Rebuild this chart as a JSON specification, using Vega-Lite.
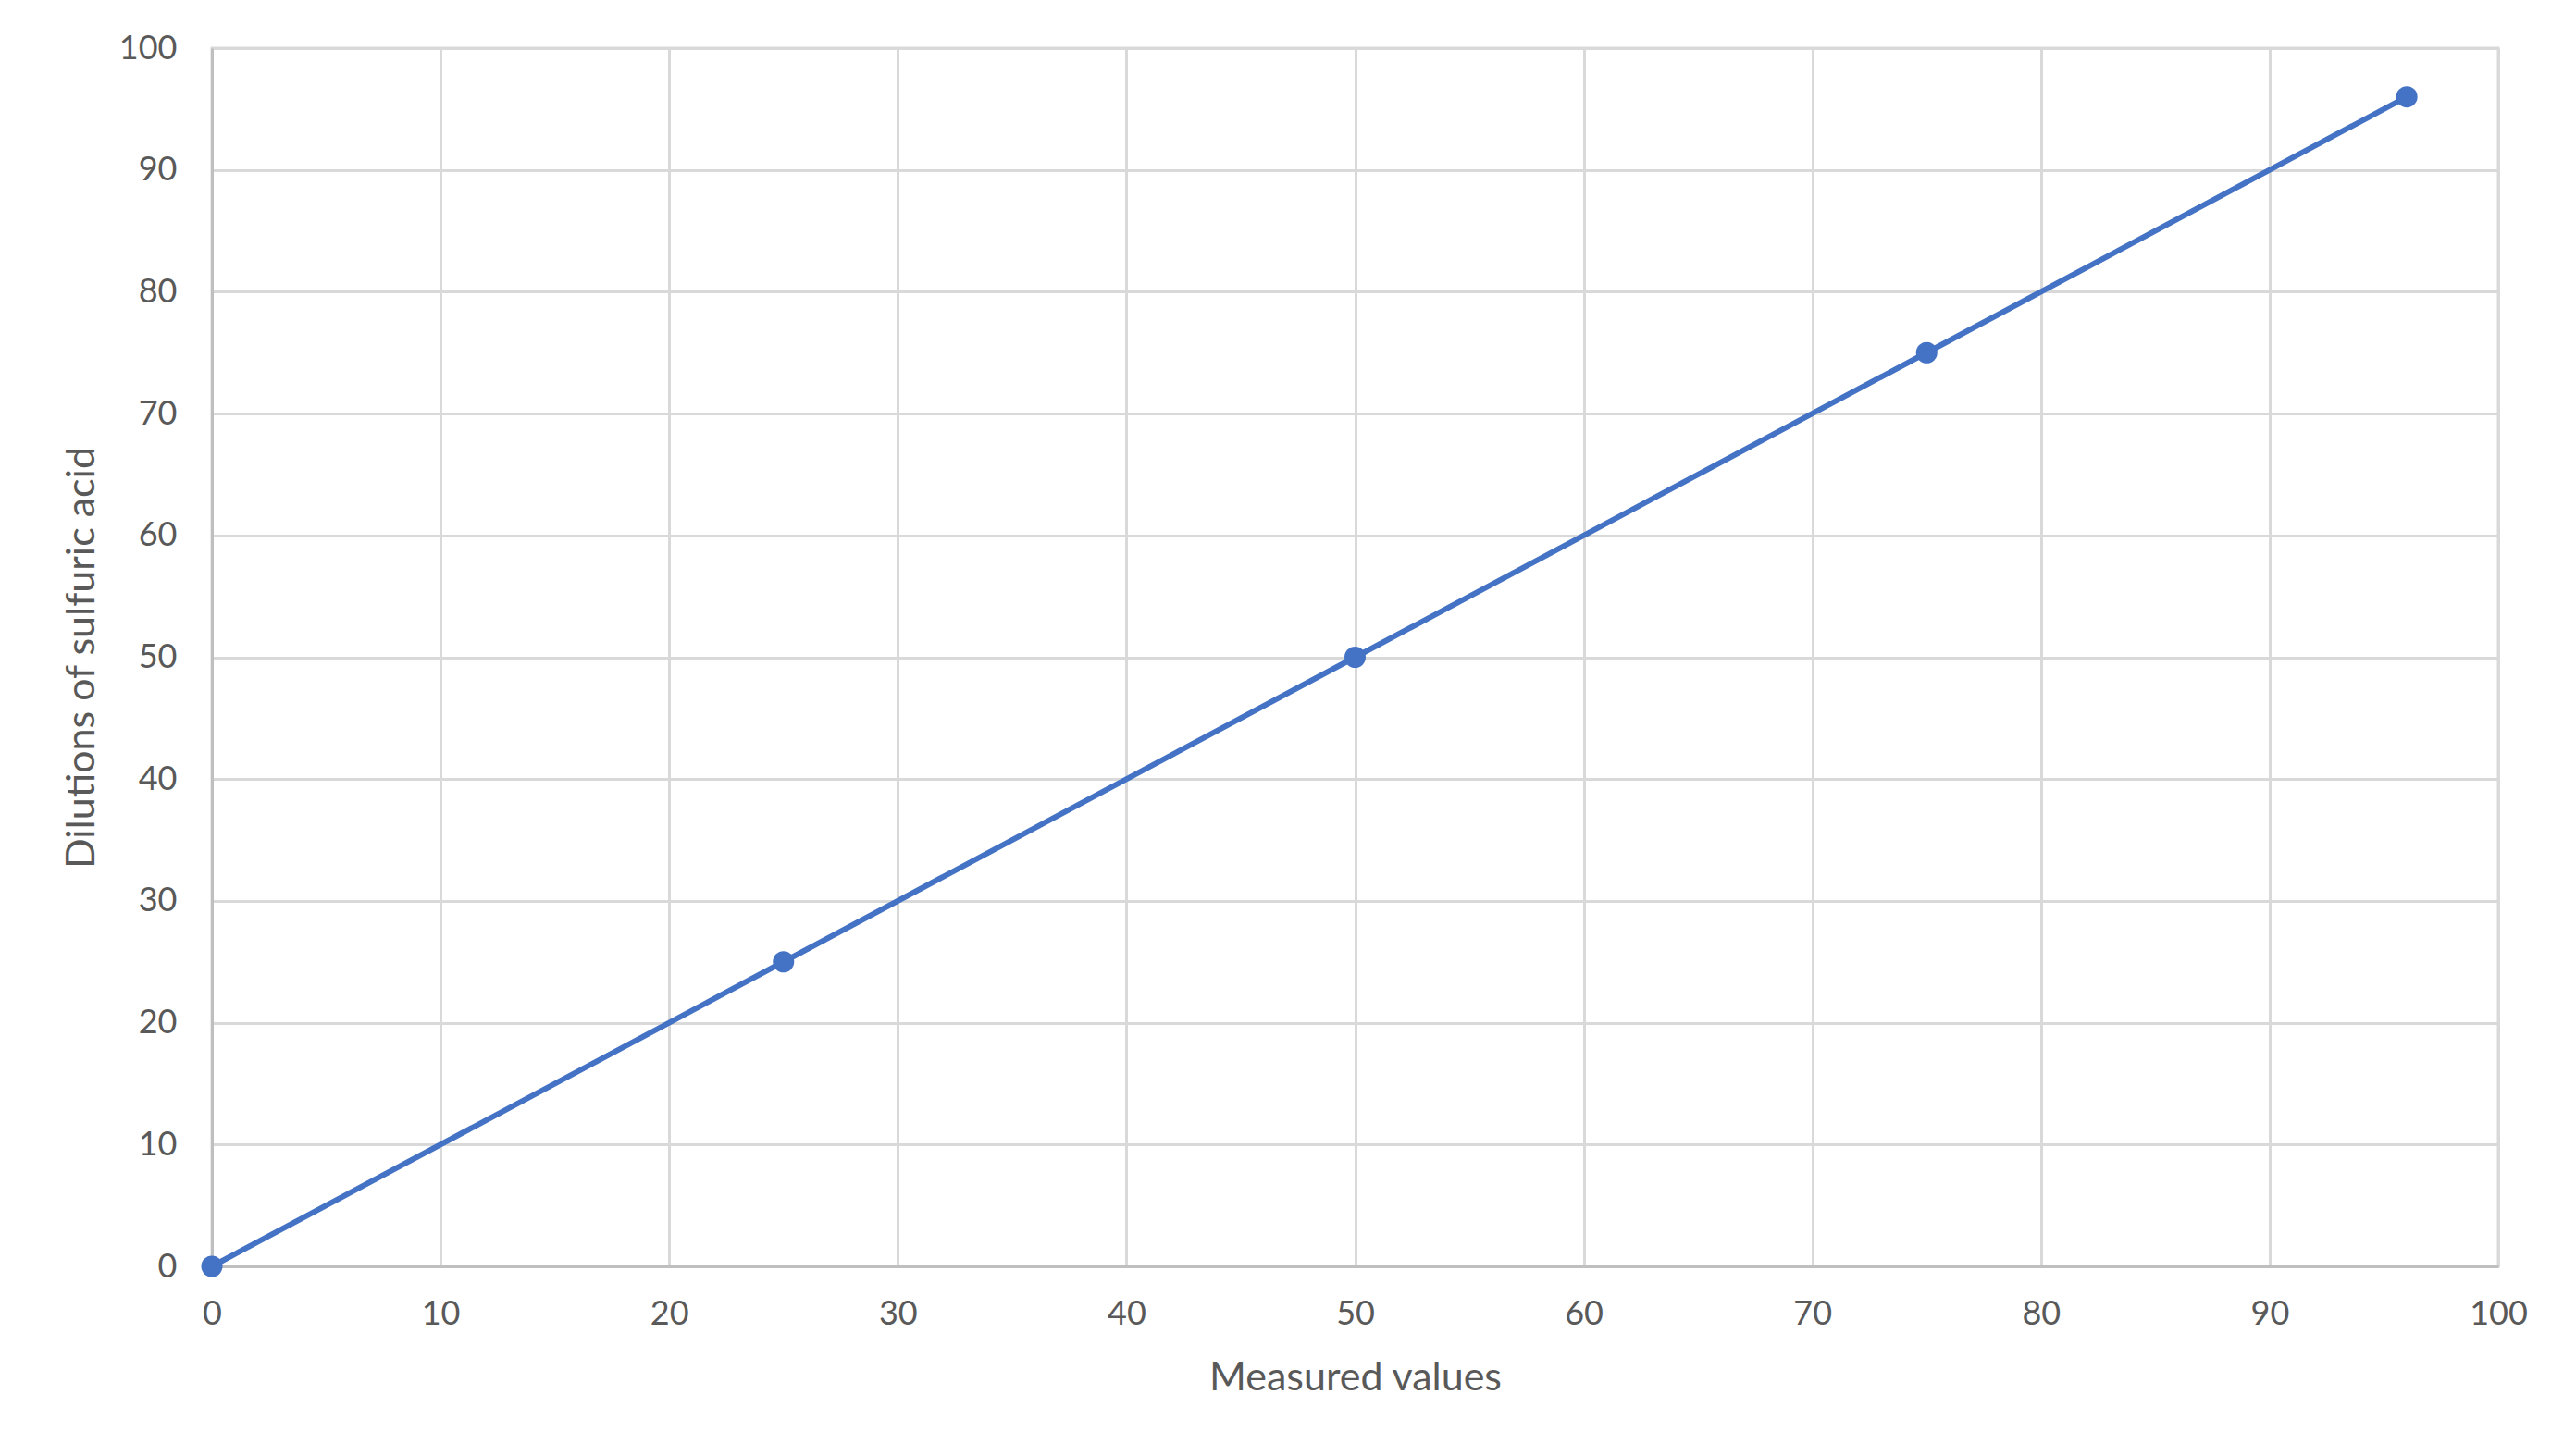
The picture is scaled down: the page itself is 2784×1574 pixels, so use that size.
{
  "$schema": "https://vega.github.io/schema/vega-lite/v6.json",
  "width": 2471,
  "height": 1317,
  "autosize": {"type": "none"},
  "padding": {"left": 229, "top": 52, "right": 84, "bottom": 205},
  "background": "white",
  "config": {
    "view": {"stroke": "#d9d9d9", "strokeWidth": 3},
    "font": "Lato",
    "axis": {
      "labelFont": "Lato",
      "titleFont": "Lato",
      "labelColor": "#595959",
      "titleColor": "#595959",
      "labelFontSize": 36,
      "titleFontSize": 43,
      "titleFontWeight": "normal",
      "gridColor": "#d9d9d9",
      "gridWidth": 3,
      "domainColor": "#bfbfbf",
      "domainWidth": 3,
      "ticks": false,
      "tickSize": 0
    }
  },
  "data": {
    "values": [
      {"measured": 0, "dilution": 0},
      {"measured": 25, "dilution": 25},
      {"measured": 50, "dilution": 50},
      {"measured": 75, "dilution": 75},
      {"measured": 96, "dilution": 96}
    ]
  },
  "encoding": {
    "x": {
      "field": "measured",
      "type": "quantitative",
      "scale": {"domain": [0, 100], "nice": false, "zero": true},
      "axis": {"title": "Measured values", "values": [0,10,20,30,40,50,60,70,80,90,100], "labelPadding": 34, "titlePadding": 30, "labelFlush": false}
    },
    "y": {
      "field": "dilution",
      "type": "quantitative",
      "scale": {"domain": [0, 100], "nice": false},
      "axis": {"title": "Dilutions of sulfuric acid", "values": [0,10,20,30,40,50,60,70,80,90,100], "labelPadding": 38, "titlePadding": 18, "labelFlush": false}
    }
  },
  "layer": [
    {"mark": {"type": "line", "color": "#4472C4", "strokeWidth": 6}},
    {"mark": {"type": "point", "filled": true, "opacity": 1, "color": "#4472C4", "size": 530}}
  ]
}
